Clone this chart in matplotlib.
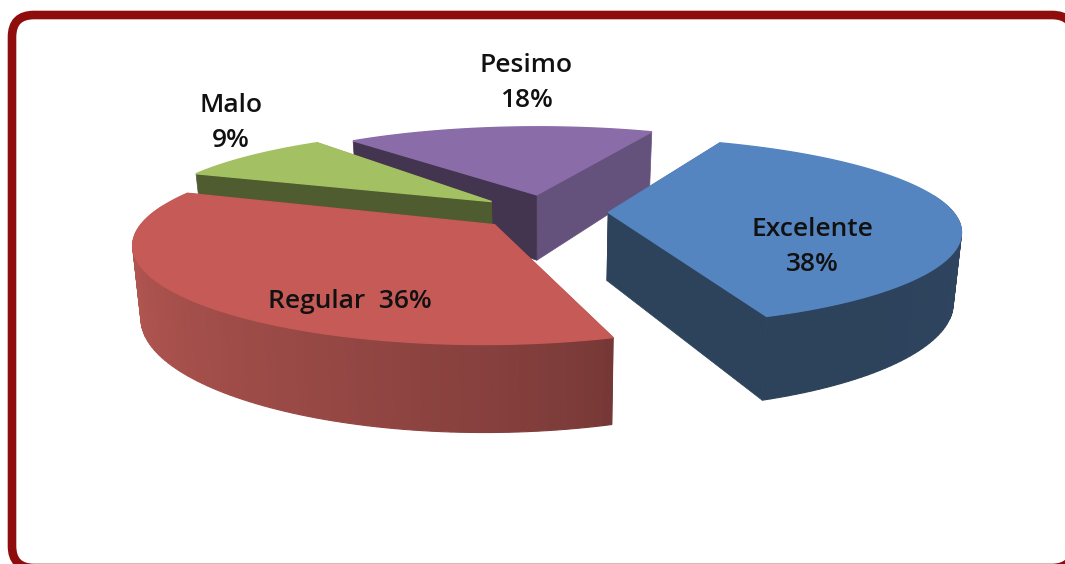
import numpy as np
import matplotlib
matplotlib.use("Agg")
import matplotlib.pyplot as plt
from matplotlib.patches import FancyBboxPatch, Polygon

# datos del grafico
categorias = ["Excelente", "Regular", "Malo", "Pesimo"]
valores = [38, 36, 9, 18]

color_top = ["#5585C0", "#C55A56", "#A3C162", "#8A6CA8"]
# cara de corte de cada lado de la porcion
color_corte = ["#2D435C", "#6F3433", "#4E5C2F", "#43344F"]
color_corte2 = ["#2D435C", "#6F3433", "#4E5C2F", "#64527C"]
# lateral curvo: color al principio y final del arco
lado_ini = ["#34496A", "#763836", "#4E5C2F", "#64527C"]
lado_fin = ["#2D435C", "#BB5A55", "#4E5C2F", "#64527C"]

# camara de la torta 3D
cx, cy = 546, 212
S = 345
Sf = 90
kx = 0.18
ky = 0.2
D = 68
fuga = 0.02
explosion = [0.18, 0.2, 0.2, 0.2]
radio = [1, 1, 1, 0.97]
giro = [0, -3, -2.5, 0]
inicio = 66


def proy(x, y, z=0):
    return cx + S * x / (1 + kx * y) * (1 - fuga * z), cy - (Sf * y - D * z) / (1 + ky * y)


def mezcla(c1, c2, t):
    a = np.array(matplotlib.colors.to_rgb(c1))
    b = np.array(matplotlib.colors.to_rgb(c2))
    return a + (b - a) * t


fig = plt.figure(figsize=(10.65, 5.64), dpi=100)
ax = fig.add_axes([0, 0, 1, 1])
ax.set_xlim(0, 1065)
ax.set_ylim(564, 0)
ax.axis("off")

# marco rojo
marco = FancyBboxPatch((12, 15), 1062, 553, boxstyle="round,pad=0,rounding_size=22",
                       fc="white", ec="#8F0D0D", lw=6.2)
ax.add_patch(marco)

total = sum(valores)
angulos = [inicio]
for v in valores:
    angulos.append(angulos[-1] - 360 * v / total)

# de atras hacia adelante
for i in [3, 2, 1, 0]:
    a1, a2 = np.radians(angulos[i] + giro[i]), np.radians(angulos[i + 1] + giro[i])
    bis = (a1 + a2) / 2
    ex, ey = explosion[i] * np.cos(bis), explosion[i] * np.sin(bis)
    th = np.linspace(a1, a2, 100)
    xs, ys = ex + radio[i] * np.cos(th), ey + radio[i] * np.sin(th)

    # caras de corte
    for ang, col in [(a2, color_corte2[i]), (a1, color_corte[i])]:
        bx, by = ex + radio[i] * np.cos(ang), ey + radio[i] * np.sin(ang)
        cara = [proy(ex, ey), proy(bx, by), proy(bx, by, 1), proy(ex, ey, 1)]
        ax.add_patch(Polygon(cara, fc=col, ec=col, lw=0.5))

    # lateral curvo, los tramos de atras primero
    for j in np.argsort(-ys[:-1]):
        if np.sin(th[j]) > 0.2:
            continue
        t = min(1.0, (j / (len(th) - 2)) * 1.15) ** 0.75
        col = mezcla(lado_ini[i], lado_fin[i], t)
        q = [proy(xs[j], ys[j]), proy(xs[j + 1], ys[j + 1]),
             proy(xs[j + 1], ys[j + 1], 1), proy(xs[j], ys[j], 1)]
        ax.add_patch(Polygon(q, fc=col, ec=col, lw=0.8))

    # tapa
    tapa = [proy(ex, ey)] + [proy(a, b) for a, b in zip(xs, ys)]
    ax.add_patch(Polygon(tapa, fc=color_top[i], ec=color_top[i], lw=1))

# etiquetas
fuente = dict(family="Open Sans", weight="semibold", fontsize=19, color="#111111",
              ha="center", va="center", linespacing=1.5)
ax.text(812, 247, f"{categorias[0]}\n{valores[0]}%", **fuente)
ax.text(350, 302, f"{categorias[1]}  {valores[1]}%", **fuente)
ax.text(231, 123, f"{categorias[2]}\n{valores[2]}%", **fuente)
ax.text(526, 83, f"{categorias[3]}\n{valores[3]}%", **fuente)

fig.savefig("out.png", dpi=100)
